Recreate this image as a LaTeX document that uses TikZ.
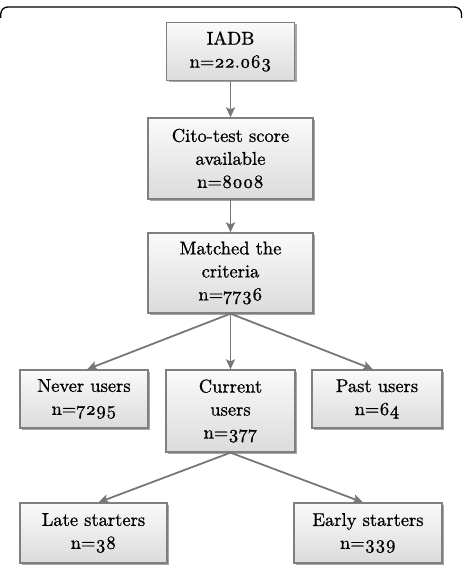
\documentclass[tikz,border=0pt]{standalone}
\usepackage{fontspec}
\newfontfamily\bxfont{lmroman10-regular.otf}[FakeBold=0.9,Numbers=OldStyle]
\usetikzlibrary{shadows,arrows.meta}
\definecolor{boxline}{HTML}{7F7F7F}
\definecolor{arrowc}{HTML}{777777}
\begin{document}
\begin{tikzpicture}[x=1pt,y=-1pt,
  box/.style={draw=boxline,line width=1.3pt,top color=gray!4,bottom color=gray!28,
    drop shadow={shadow xshift=2pt,shadow yshift=-2pt,fill=black,opacity=0.35},
    align=center,inner sep=0pt,font=\bxfont\fontsize{18.5}{23}\selectfont},
  arr/.style={draw=arrowc,line width=1.8pt,-{Stealth[length=10pt,width=9pt,inset=2pt]}}]
\useasboundingbox (0,0) rectangle (463,569);
\draw[line width=1.3pt,rounded corners=7pt] (0.8,18) |- (461.5,7) -- (461.5,18);
\node[box,minimum width=128pt,minimum height=58pt] (iadb) at (230.5,51.5) {IADB\\n=22.063};
\node[box,minimum width=165pt,minimum height=81pt] (cito) at (230.5,158.5) {Cito-test score\\available\\n=8008};
\node[box,minimum width=165pt,minimum height=80pt] (match) at (230.5,273) {Matched the\\criteria\\n=7736};
\node[box,minimum width=128pt,minimum height=58pt] (never) at (84,399) {Never users\\n=7295};
\node[box,minimum width=129pt,minimum height=82pt] (curr) at (230.5,411) {Current\\users\\n=377};
\node[box,minimum width=130pt,minimum height=58pt] (past) at (377,399) {Past users\\n=64};
\node[box,minimum width=147pt,minimum height=60pt] (late) at (93.5,533) {Late starters\\n=38};
\node[box,minimum width=148pt,minimum height=60pt] (early) at (368,533) {Early starters\\n=339};
\draw[arr] (iadb.south) -- (cito.north);
\draw[arr] (cito.south) -- (match.north);
\draw[arr] (match.south) -- ([xshift=3pt]never.north);
\draw[arr] (match.south) -- (curr.north);
\draw[arr] (match.south) -- ([xshift=-4pt]past.north);
\draw[arr] (curr.south) -- ([xshift=5pt]late.north);
\draw[arr] (curr.south) -- ([xshift=-5pt]early.north);
\end{tikzpicture}
\end{document}
